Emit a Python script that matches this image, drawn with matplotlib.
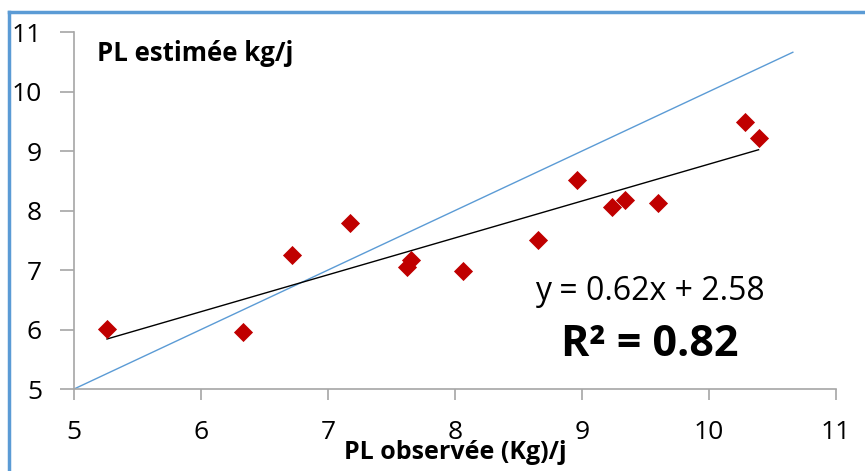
import matplotlib
matplotlib.use("Agg")
import matplotlib.pyplot as plt
from matplotlib.lines import Line2D
import numpy as np

plt.rcParams['font.family'] = ['Open Sans', 'DejaVu Sans']

observed = [5.26, 6.33, 6.72, 7.17, 7.62, 7.65, 8.06, 8.65, 8.96, 9.24, 9.34, 9.60, 10.28, 10.39]
estimated = [6.01, 5.96, 7.25, 7.79, 7.05, 7.17, 6.98, 7.50, 8.51, 8.06, 8.18, 8.13, 9.49, 9.22]
identity_x = [5.0, 10.66]
slope, intercept = 0.62, 2.58
x_ticks = [5, 6, 7, 8, 9, 10, 11]
y_ticks = [5, 6, 7, 8, 9, 10, 11]

fig = plt.figure(figsize=(8.65, 4.71), dpi=100)
ax = fig.add_axes([0.0855, 0.174, 0.881, 0.758])

ax.plot(identity_x, identity_x, color='#5B9BD5', lw=1.0, zorder=1)
tx = np.array([min(observed), max(observed)])
ax.plot(tx, slope * tx + intercept, color='black', lw=1.0, zorder=2)
ax.scatter(observed, estimated, marker='D', s=95, color='#C00000', zorder=3, linewidths=0)

ax.set_xlim(5, 11)
ax.set_ylim(5, 11)
ax.set_xticks(x_ticks)
ax.set_yticks(y_ticks)
for s in ['top', 'right']:
    ax.spines[s].set_visible(False)
for s in ['left', 'bottom']:
    ax.spines[s].set_color('#A6A6A6')
    ax.spines[s].set_linewidth(1.2)
ax.tick_params(axis='x', direction='out', length=8, width=1.2, color='#A6A6A6', pad=14, labelsize=19)
ax.tick_params(axis='y', direction='out', length=10, width=1.2, color='#A6A6A6', pad=13, labelsize=19)

ax.text(0.03, 0.94, 'PL estimée kg/j', transform=ax.transAxes, fontsize=18.5,
        fontweight='bold', ha='left', va='center')
fig.text(455 / 865, 1 - 459 / 471, 'PL observée (Kg)/j', fontsize=18, fontweight='bold',
         ha='center', va='baseline')
fig.text(650 / 865, 1 - 292 / 471, 'y = 0.62x + 2.58', fontsize=23, ha='center', va='center')
fig.text(650 / 865, 1 - 345 / 471, 'R² = 0.82', fontsize=31, fontweight='bold',
         ha='center', va='center')

# blue frame of the chart area
fig.add_artist(Line2D([9 / 865, 9 / 865], [0, 1 - 12 / 471], transform=fig.transFigure,
                      color='#5B9BD5', lw=2.5))
fig.add_artist(Line2D([9 / 865, 1], [1 - 12 / 471, 1 - 12 / 471], transform=fig.transFigure,
                      color='#5B9BD5', lw=2.5))

fig.savefig('out.png', dpi=100)
